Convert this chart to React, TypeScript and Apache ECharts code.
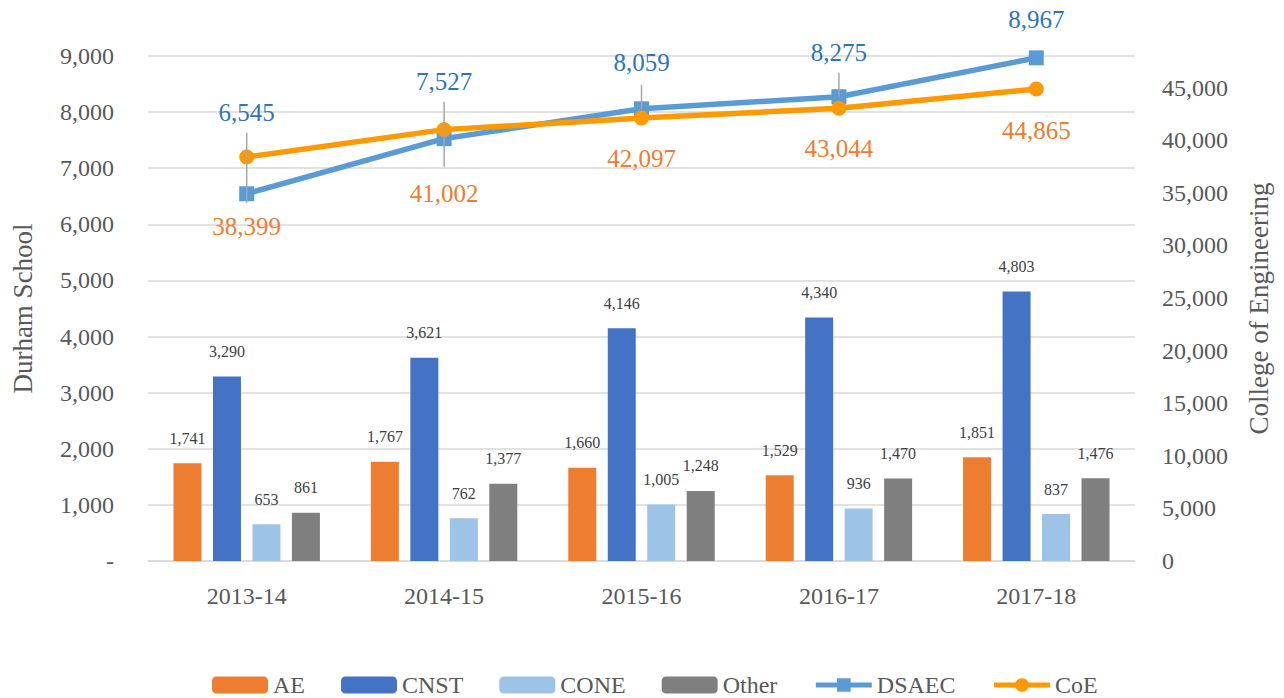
import React, { useEffect, useRef } from "react";
import * as echarts from "echarts";

const categories = ["2013-14", "2014-15", "2015-16", "2016-17", "2017-18"];
const aeValues = [1741, 1767, 1660, 1529, 1851];
const cnstValues = [3290, 3621, 4146, 4340, 4803];
const coneValues = [653, 762, 1005, 936, 837];
const otherValues = [861, 1377, 1248, 1470, 1476];
const dsaecValues = [6545, 7527, 8059, 8275, 8967];
const coeValues = [38399, 41002, 42097, 43044, 44865];

// styling: label distances (px) and leader line extents (px relative to point)
const dsaecLabelDist = [61, 37, 26, 24, 18];
const coeLabelDist = [49, 44, 20, 20, 22];
const leaderExtents: ([number, number] | null)[] = [[-61, 9], [-37, 28], [-24, 0], [-24, 0], null];

const FONT = "'Liberation Serif', 'Times New Roman', serif";
const fmt = (v: number) => Math.round(v).toLocaleString("en-US");

export default function App() {
  const ref = useRef<HTMLDivElement>(null);
  useEffect(() => {
    if (!ref.current) return;
    const chart = echarts.init(ref.current, null, { renderer: "svg" });
    const barLabel = {
      show: true,
      position: "top",
      distance: 17,
      fontSize: 16,
      fontFamily: FONT,
      color: "#404040",
      formatter: (p: any) => fmt(p.value),
    };
    const bar = (name: string, data: number[], color: string) => ({
      name,
      type: "bar",
      yAxisIndex: 0,
      data,
      barWidth: 28,
      barGap: "41%",
      itemStyle: { color },
      label: barLabel,
    });
    chart.setOption({
      animation: false,
      textStyle: { fontFamily: FONT },
      grid: { left: 148, right: 149, top: 56, bottom: 137 },
      legend: {
        data: [
          "AE",
          "CNST",
          "CONE",
          "Other",
          { name: "DSAEC", lineStyle: { width: 5 } },
          { name: "CoE", lineStyle: { width: 5 } },
        ],
        left: 207,
        top: 668,
        itemWidth: 56,
        itemHeight: 17,
        itemGap: 36,
        textStyle: { fontSize: 24, color: "#595959", fontFamily: FONT },
      },
      xAxis: {
        type: "category",
        data: categories,
        axisTick: { show: false },
        axisLine: { lineStyle: { color: "#D9D9D9", width: 1.5 } },
        axisLabel: { fontSize: 24, color: "#595959", margin: 23, fontFamily: FONT },
      },
      yAxis: [
        {
          type: "value",
          min: 0,
          max: 9000,
          interval: 1000,
          name: "Durham School",
          nameLocation: "middle",
          nameGap: 112,
          nameRotate: 90,
          nameTextStyle: { fontSize: 27, color: "#595959", fontFamily: FONT },
          axisLine: { show: false },
          axisTick: { show: false },
          splitLine: { lineStyle: { color: "#D9D9D9", width: 1.5 } },
          axisLabel: {
            fontSize: 24,
            color: "#595959",
            margin: 34,
            fontFamily: FONT,
            formatter: (v: number) => (v === 0 ? "-" : fmt(v)),
          },
        },
        {
          type: "value",
          min: 0,
          max: 48000,
          interval: 5000,
          name: "College of Engineering",
          nameLocation: "middle",
          nameGap: 110,
          nameRotate: 90,
          nameTextStyle: { fontSize: 27, color: "#595959", fontFamily: FONT },
          axisLine: { show: false },
          axisTick: { show: false },
          splitLine: { show: false },
          axisLabel: {
            fontSize: 24,
            color: "#595959",
            margin: 27,
            fontFamily: FONT,
            showMaxLabel: false,
            formatter: (v: number) => fmt(v),
          },
        },
      ],
      series: [
        bar("AE", aeValues, "#ED7D31"),
        bar("CNST", cnstValues, "#4472C4"),
        bar("CONE", coneValues, "#9DC3E6"),
        bar("Other", otherValues, "#7F7F7F"),
        {
          name: "DSAEC",
          type: "line",
          yAxisIndex: 0,
          data: dsaecValues.map((v, i) => ({ value: v, label: { distance: dsaecLabelDist[i] } })),
          symbol: "rect",
          symbolSize: 15,
          lineStyle: { width: 5.5, color: "#5B9BD5" },
          itemStyle: { color: "#5B9BD5" },
          label: {
            show: true,
            position: "top",
            fontSize: 25,
            fontFamily: FONT,
            color: "#2E75B6",
            formatter: (p: any) => fmt(p.value),
          },
          z: 3,
        },
        {
          name: "CoE",
          type: "line",
          yAxisIndex: 1,
          data: coeValues.map((v, i) => ({ value: v, label: { distance: coeLabelDist[i] } })),
          symbol: "circle",
          symbolSize: 15,
          lineStyle: { width: 5.5, color: "#FF9900" },
          itemStyle: { color: "#FF9900" },
          label: {
            show: true,
            position: "bottom",
            fontSize: 25,
            fontFamily: FONT,
            color: "#ED7D31",
            formatter: (p: any) => fmt(p.value),
          },
          z: 4,
        },
        {
          name: "leaders",
          type: "custom",
          yAxisIndex: 0,
          silent: true,
          z: 5,
          data: dsaecValues.map((v, i) => [i, v]),
          renderItem: (params: any, api: any) => {
            const ext = leaderExtents[params.dataIndex];
            if (!ext) return null;
            const p = api.coord([api.value(0), api.value(1)]);
            return {
              type: "line",
              shape: { x1: p[0], y1: p[1] + ext[0], x2: p[0], y2: p[1] + ext[1] },
              style: { stroke: "#A6A6A6", lineWidth: 1.5 },
            };
          },
        },
      ],
    });
    return () => chart.dispose();
  }, []);
  return (
    <div
      ref={ref}
      style={{ position: "fixed", left: 0, top: 0, width: 1284, height: 698, background: "#fff" }}
    />
  );
}
